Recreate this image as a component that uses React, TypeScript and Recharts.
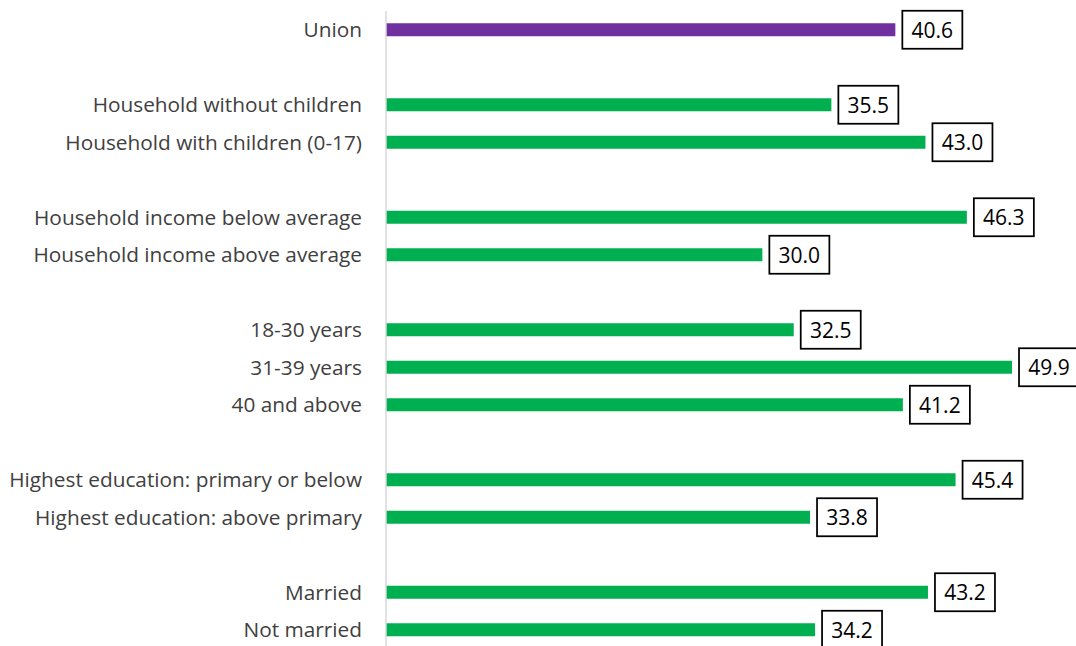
import React from 'react';
import { Bar, BarChart, Cell, LabelList, XAxis, YAxis } from 'recharts';

// blank strings are the gaps between groups
const categories = [
  'Union',
  '',
  'Household without children',
  'Household with children (0-17)',
  '',
  'Household income below average',
  'Household income above average',
  '',
  '18-30 years',
  '31-39 years',
  '40 and above',
  '',
  'Highest education: primary or below',
  'Highest education: above primary',
  '',
  'Married',
  'Not married',
];

const values: (number | null)[] = [
  40.6, null, 35.5, 43.0, null, 46.3, 30.0, null, 32.5, 49.9, 41.2, null, 45.4, 33.8, null, 43.2, 34.2,
];

const UNION_COLOR = '#7030a0';
const GROUP_COLOR = '#00b050';

const data = categories.map((name, i) => ({ key: String(i), name, value: values[i] }));

const ValueBox = (props: any) => {
  const { x, y, width, height, value } = props;
  if (value == null) return null;
  const bx = x + width + 7;
  const cy = y + height / 2;
  return (
    <g>
      <rect x={bx} y={cy - 19} width={60} height={38} fill="#fff" stroke="#000" strokeWidth={1.75} />
      <text
        x={bx + 30}
        y={cy}
        textAnchor="middle"
        dominantBaseline="central"
        fontSize={21}
        fontFamily="'Open Sans', sans-serif"
        fill="#000"
      >
        {Number(value).toFixed(1)}
      </text>
    </g>
  );
};

export default function App() {
  return (
    <div style={{ position: 'absolute', left: 0, top: 0, width: 1076, height: 646, overflow: 'hidden', background: '#fff' }}>
      <BarChart
        width={1076}
        height={660}
        data={data}
        layout="vertical"
        margin={{ top: 11.25, right: 0, left: 0, bottom: 11.25 }}
      >
        <XAxis type="number" domain={[0, 55]} hide />
        <YAxis
          type="category"
          dataKey="key"
          width={386}
          tickFormatter={(k: string) => categories[Number(k)]}
          tick={{ fill: '#404040', fontSize: 20.8, fontFamily: "'Open Sans', sans-serif" }}
          tickLine={false}
          tickSize={0}
          tickMargin={24}
          axisLine={{ stroke: '#d9d9d9', strokeWidth: 1.5 }}
          interval={0}
        />
        <Bar dataKey="value" barSize={13} isAnimationActive={false}>
          {data.map((d, i) => (
            <Cell key={d.key} fill={i === 0 ? UNION_COLOR : GROUP_COLOR} />
          ))}
          <LabelList dataKey="value" content={<ValueBox />} />
        </Bar>
      </BarChart>
    </div>
  );
}
